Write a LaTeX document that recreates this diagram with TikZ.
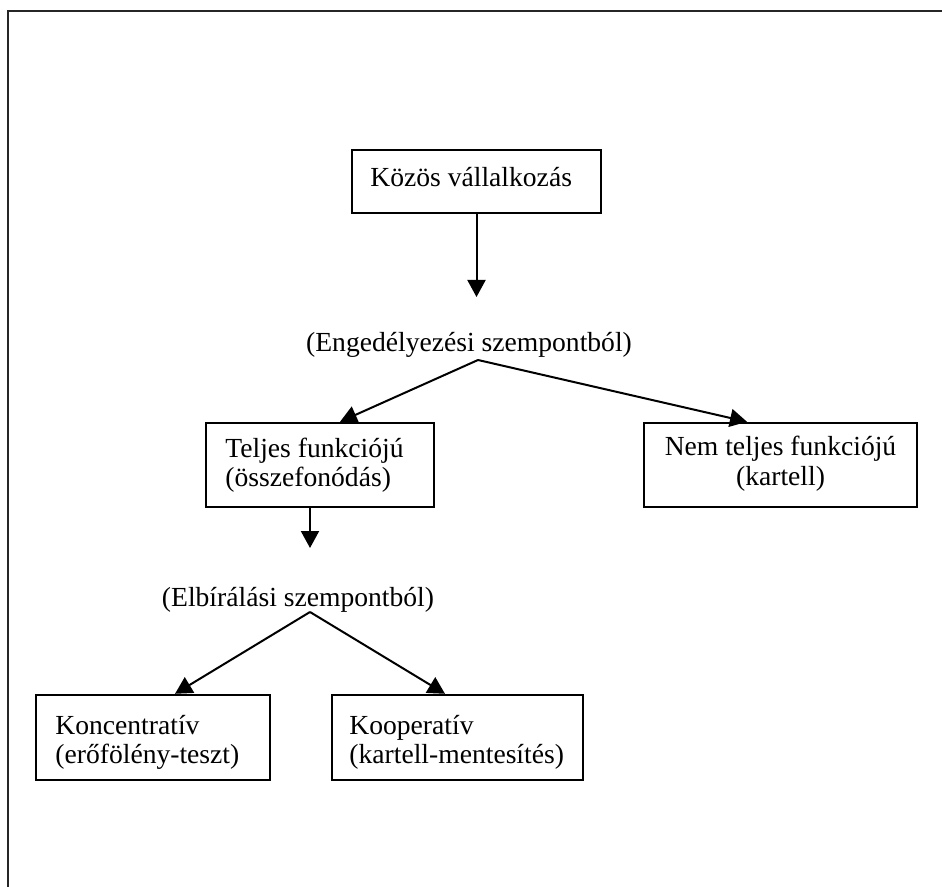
\documentclass[tikz,border=0pt]{standalone}
\usepackage{fontspec}
\setmainfont{Liberation Serif}
\usetikzlibrary{arrows.meta,calc}
\begin{document}
\begin{tikzpicture}[x=0.5pt,y=-0.5pt,
  txt/.style={font=\fontsize{13.8}{14.5}\selectfont, inner sep=0pt},
  box/.style={draw, line width=1.2pt, rectangle, inner sep=0pt},
  arr/.style={line width=1pt, -{Triangle[width=9pt,length=8.5pt]}},
  frame/.style={line width=0.8pt, draw=black!85}]
\useasboundingbox (0,0) rectangle (942,887);
\draw[frame] (8,887) -- (8,11) -- (942,11);

% boxes
\node[box, minimum width=124.5pt, minimum height=31.5pt] (kozos) at (476.5,181.5) {};
\node[box, minimum width=114pt, minimum height=42pt] (teljes) at (320,465) {};
\node[box, minimum width=136.5pt, minimum height=42pt] (nem) at (780.5,465) {};
\node[box, minimum width=117pt, minimum height=42.5pt] (konc) at (153,737.5) {};
\node[box, minimum width=125.5pt, minimum height=42.5pt] (koop) at (457.5,737.5) {};

% texts (base anchor = baseline of the last line)
\node[txt, anchor=base west] (kozosT) at (370,187) {Közös vállalkozás};
\node[txt, anchor=base] (eng) at (469,352) {(Engedélyezési szempontból)};
\node[txt, anchor=base west, align=left] (teljesT) at (225,487) {Teljes funkciójú\\(összefonódás)};
\node[txt, anchor=base, align=center] (nemT) at (780.5,485) {Nem teljes funkciójú\\(kartell)};
\node[txt, anchor=base] (elb) at (298,606) {(Elbírálási szempontból)};
\node[txt, anchor=base west, align=left] (koncT) at (55,763) {Koncentratív\\(erőfölény-teszt)};
\node[txt, anchor=base west, align=left] (koopT) at (349,763) {Kooperatív\\(kartell-mentesítés)};

\coordinate (k1) at (476.5,297);
\coordinate (e1) at (478,360);
\coordinate (t2) at (310,548);
\coordinate (e2) at (310,612);

\draw[arr] (kozos.south) -- (k1);
\draw[arr] (e1) -- ([xshift=10pt]teljes.north);
\draw[arr] (e1) -- ([xshift=-16.75pt]nem.north);
\draw[arr] ([xshift=-5pt]teljes.south) -- (t2);
\draw[arr] (e2) -- ([xshift=11pt]konc.north);
\draw[arr] (e2) -- ([xshift=-6.25pt]koop.north);
\end{tikzpicture}
\end{document}
